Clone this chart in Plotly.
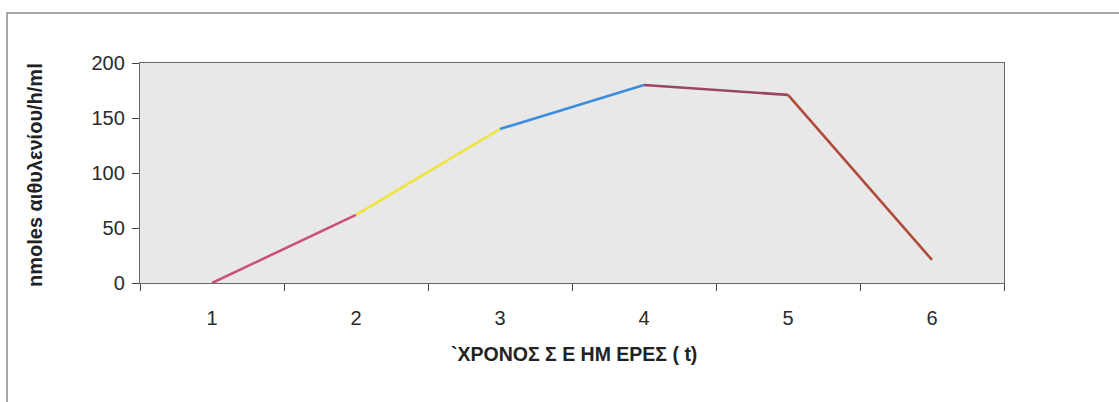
import plotly.graph_objects as go

# Ethylene production over six days
days = ["1", "2", "3", "4", "5", "6"]
ethylene = [0, 62, 140, 180, 171, 21]
segment_colors = ["#c9507f", "#f0e63a", "#3b8ddc", "#9a4563", "#b04a3a"]
y_ticks = [0, 50, 100, 150, 200]

W, H = 1119, 402
px = lambda v: v / W
py = lambda v: 1 - v / H

fig = go.Figure()
for i, col in enumerate(segment_colors):
    fig.add_trace(go.Scatter(
        x=days[i:i + 2], y=ethylene[i:i + 2], mode="lines",
        line=dict(color=col, width=2.6), showlegend=False, hoverinfo="skip"))

font_family = "Liberation Sans, Arial, sans-serif"

fig.update_layout(
    width=W, height=H,
    margin=dict(l=0, r=0, t=0, b=0, pad=0),
    paper_bgcolor="white",
    plot_bgcolor="#e8e8e8",
    font=dict(family=font_family, size=20, color="#2a2a2a"),
    xaxis=dict(
        type="category", domain=[px(140), px(1004)], range=[-0.5, 5.5],
        tickson="boundaries", ticks="outside", ticklen=7, tickcolor="#444",
        showline=True, linecolor="#666", linewidth=1.3, mirror=True,
        showgrid=False, ticklabelstandoff=17, automargin=False,
    ),
    yaxis=dict(
        range=[0, 200], domain=[py(283), py(63)],
        tickvals=y_ticks, ticks="outside", ticklen=7, tickcolor="#444",
        showline=True, linecolor="#666", linewidth=1.3, mirror=True,
        showgrid=False, zeroline=False, ticklabelstandoff=3, automargin=False,
    ),
    shapes=[dict(type="rect", xref="paper", yref="paper",
                 x0=px(7), x1=1.02, y0=-0.05, y1=py(13),
                 line=dict(color="#8a8a8a", width=1.5), layer="below")],
    annotations=[
        dict(text="<b>`ΧΡΟΝΟΣ Σ Ε ΗΜ ΕΡΕΣ ( t)</b>", xref="paper", yref="paper",
             x=px(574), y=py(354), xanchor="center", yanchor="middle",
             showarrow=False,
             font=dict(size=19.5, family=font_family, color="#222")),
        dict(text="<b>nmoles αιθυλενίου/h/ml</b>", xref="paper", yref="paper",
             x=px(35), y=py(175), xanchor="center", yanchor="middle",
             textangle=-90, showarrow=False,
             font=dict(size=20, family=font_family, color="#222")),
    ],
)

fig.write_html(
    "out.html",
    config={"responsive": False},
    post_script="document.body.style.margin='0';document.body.style.overflow='hidden';",
)
